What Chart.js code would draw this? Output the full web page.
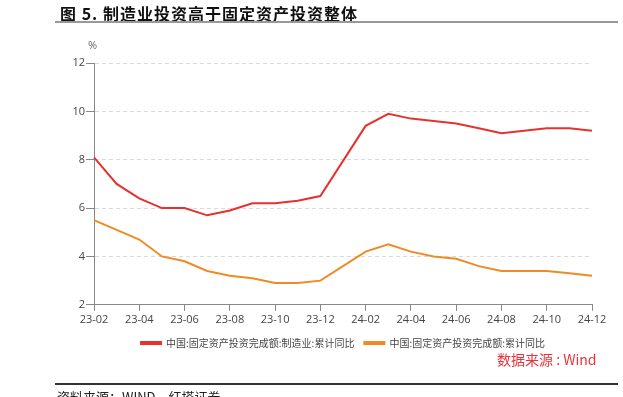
<!DOCTYPE html>
<html>
<head>
<meta charset="utf-8">
<script src="https://cdn.jsdelivr.net/npm/chart.js@4.4.1/dist/chart.umd.min.js"></script>
<style>
  body { margin: 0; width: 623px; height: 397px; overflow: hidden; background: #fff; position: relative;
         font-family: "Noto Sans CJK SC", "Open Sans", sans-serif; }
  #title { position: absolute; left: 60px; top: 1px; font-size: 16px; font-weight: bold; color: #111; letter-spacing: 1px; }
  #titleLine { position: absolute; left: 55px; top: 21px; width: 563px; height: 2px; background: #999; }
  #chartBox { position: absolute; left: 0; top: 0; width: 623px; height: 397px; }
  #unit { position: absolute; left: 88px; top: 37px; font-size: 11px; color: #666; font-family: "Open Sans", sans-serif; }
  #source { position: absolute; left: 497px; top: 349px; font-size: 14px; color: #e8343a; }
  #bottomLine { position: absolute; left: 55px; top: 383px; width: 563px; height: 2px; background: #333; }
  #footer { position: absolute; left: 57px; top: 387px; font-size: 13px; color: #222; }
</style>
</head>
<body>
<div id="chartBox"><canvas id="chart"></canvas></div>
<div id="title">图 5. 制造业投资高于固定资产投资整体</div>
<div id="titleLine"></div>
<div id="unit">%</div>
<div id="source">数据来源 : Wind</div>
<div id="bottomLine"></div>
<div id="footer">资料来源：WIND，红塔证券</div>
<script>
// months (24-01 has no release, line spans the gap)
const months = ['23-02', '23-03', '23-04', '23-05', '23-06', '23-07', '23-08', '23-09', '23-10', '23-11', '23-12',
                '24-01', '24-02', '24-03', '24-04', '24-05', '24-06', '24-07', '24-08', '24-09', '24-10', '24-11', '24-12'];

// cumulative YoY, %
const manufacturing = [8.1, 7.0, 6.4, 6.0, 6.0, 5.7, 5.9, 6.2, 6.2, 6.3, 6.5,
                       null, 9.4, 9.9, 9.7, 9.6, 9.5, 9.3, 9.1, 9.2, 9.3, 9.3, 9.2];
const totalFai = [5.5, 5.1, 4.7, 4.0, 3.8, 3.4, 3.2, 3.1, 2.9, 2.9, 3.0,
                  null, 4.2, 4.5, 4.2, 4.0, 3.9, 3.6, 3.4, 3.4, 3.4, 3.3, 3.2];

const yTicks = [2, 4, 6, 8, 10, 12];

const seriesNames = ['中国:固定资产投资完成额:制造业:累计同比', '中国:固定资产投资完成额:累计同比'];

const fontFamily = '"Open Sans", "Noto Sans CJK SC", sans-serif';

// legend is centred under the plot area, not the whole canvas
const centreLegend = {
    id: 'centreLegend',
    afterLayout: function(c) {
        const lg = c.legend;
        const shift = (c.chartArea.left + c.chartArea.right) / 2 - (lg.left + lg.right) / 2;
        lg.left += shift;
        lg.right += shift;
    }
};

const ctx = document.getElementById('chart').getContext('2d');
const chart = new Chart(ctx, {
    type: 'line',
    data: {
        labels: months,
        datasets: [{
            label: seriesNames[0],
            data: manufacturing,
            borderColor: '#e5322f',
            backgroundColor: '#e5322f',
            borderWidth: 2,
            pointRadius: 0,
            tension: 0,
            spanGaps: true
        }, {
            label: seriesNames[1],
            data: totalFai,
            borderColor: '#f08a24',
            backgroundColor: '#f08a24',
            borderWidth: 2,
            pointRadius: 0,
            tension: 0,
            spanGaps: true
        }]
    },
    options: {
        responsive: true,
        maintainAspectRatio: false,
        animation: false,
        layout: {
            padding: { left: 0, right: 31, top: 63, bottom: 39 }
        },
        plugins: {
            tooltip: { enabled: false },
            legend: {
                position: 'bottom',
                labels: {
                    boxWidth: 20,
                    boxHeight: 2,
                    padding: 10,
                    color: '#444',
                    font: { size: 10, family: '"Noto Sans CJK SC", sans-serif' }
                }
            }
        },
        scales: {
            x: {
                grid: {
                    display: true,
                    drawOnChartArea: false,
                    drawTicks: true,
                    tickLength: 6,
                    color: '#888'
                },
                border: { color: '#888', width: 1 },
                ticks: {
                    autoSkip: false,
                    maxRotation: 0,
                    padding: 2,
                    color: '#444',
                    font: { size: 11, family: fontFamily },
                    callback: function(value, index) {
                        return index % 2 === 0 ? months[index] : null;
                    }
                }
            },
            y: {
                min: yTicks[0],
                max: yTicks[yTicks.length - 1],
                afterFit: function(axis) { axis.width = 94; },
                afterBuildTicks: function(axis) {
                    axis.ticks = yTicks.map(v => ({ value: v }));
                },
                grid: {
                    color: function(c) { return c.tick && c.tick.value === yTicks[0] ? 'rgba(0,0,0,0)' : '#d9d9d9'; },
                    tickColor: '#888',
                    tickLength: 8,
                    drawTicks: true,
                    tickBorderDash: []
                },
                border: { color: '#888', width: 1, dash: [4, 3] },
                ticks: {
                    padding: 1,
                    color: '#444',
                    font: { size: 11, family: fontFamily }
                }
            }
        }
    },
    plugins: [centreLegend]
});
</script>
</body>
</html>
